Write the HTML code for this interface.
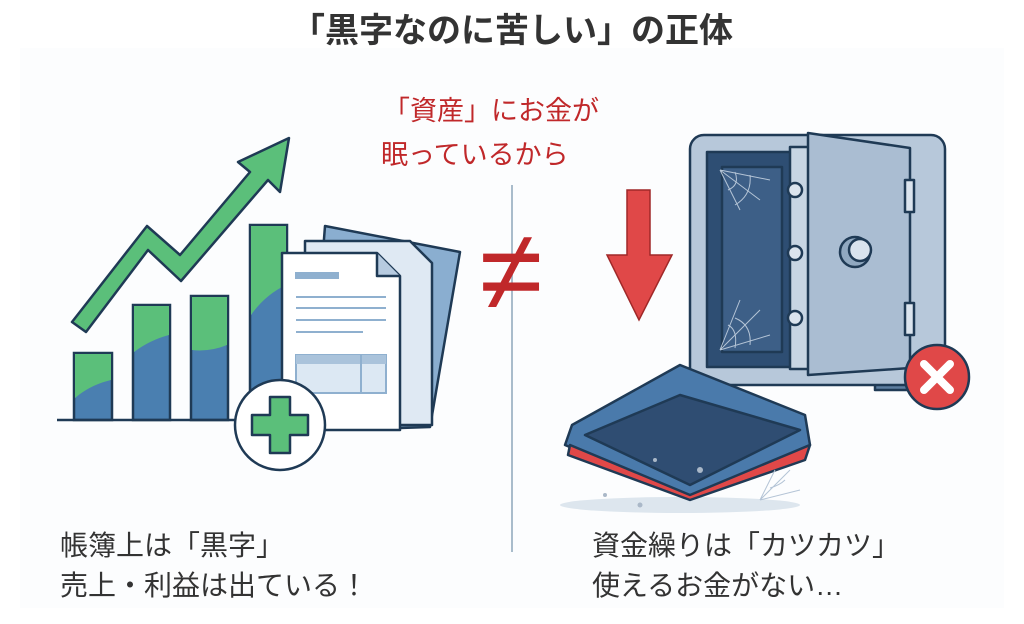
<!DOCTYPE html>
<html><head><meta charset="utf-8"><style>
body{margin:0;background:#fff;}
svg{display:block}
text{font-family:"Liberation Sans","Noto Sans CJK JP",sans-serif;}
</style></head><body>
<svg width="1024" height="624" viewBox="0 0 1024 624" xmlns="http://www.w3.org/2000/svg">
<rect width="1024" height="624" fill="#fff"/>
<rect x="20" y="48" width="984" height="560" fill="#fcfdfe"/>
<text x="512" y="42" text-anchor="middle" font-size="34" font-weight="bold" fill="#333">「黒字なのに苦しい」の正体</text>
<line x1="512" y1="185" x2="512" y2="552" stroke="#a9bccb" stroke-width="2"/>
<text x="383" y="120" font-size="27" fill="#c0282a">「資産」にお金が</text>
<text x="381" y="164" font-size="27" fill="#c0282a">眠っているから</text>
<text x="511" y="310" text-anchor="middle" font-size="115" fill="#c0282a">≠</text>

<!-- left chart -->
<g stroke="#1f3a55" stroke-width="2.5">
<rect x="74" y="353" width="38" height="67" fill="#4a7fb0"/>
<rect x="133" y="305" width="37" height="115" fill="#4a7fb0"/>
<rect x="191" y="296" width="37" height="124" fill="#4a7fb0"/>
<rect x="250" y="225" width="37" height="195" fill="#4a7fb0"/>
</g>
<g fill="#5bbf7a">
<path d="M75,354 H111 V380 Q90,385 75,398Z"/>
<path d="M134,306 H169 V335 Q150,340 134,352Z"/>
<path d="M192,297 H227 V345 Q210,352 192,350Z"/>
<path d="M251,226 H286 V285 Q265,295 251,315Z"/>
</g>
<line x1="57" y1="420" x2="240" y2="420" stroke="#1f3a55" stroke-width="2.5"/>
<path d="M72,322 L147,226 L180,255 L250,172 L238,162 L289,138 L280,192 L268,180 L181,281 L148,250 L86,332Z" fill="#5bbf7a" stroke="#1f3a55" stroke-width="2.5" stroke-linejoin="round"/>

<!-- documents -->
<g stroke="#1f3a55" stroke-width="2.5" stroke-linejoin="round">
<path d="M325,226 L460,252 L430,427 L400,428 L310,420Z" fill="#8aaed0"/>
<path d="M305,241 H410 L432,263 V425 H305Z" fill="#dfe9f3"/>
<path d="M282,253 H377 L400,276 V430 H282Z" fill="#fff"/>
<path d="M377,253 V276 H400" fill="#b7cbe0"/>
</g>
<g stroke="#8fb0cf" stroke-width="2">
<line x1="296" y1="297" x2="386" y2="297"/><line x1="296" y1="308" x2="386" y2="308"/><line x1="296" y1="320" x2="386" y2="320"/><line x1="296" y1="332" x2="363" y2="332"/>
</g>
<rect x="295" y="272" width="44" height="7" fill="#8fb0cf"/>
<rect x="296" y="355" width="90" height="38" fill="#dce8f3" stroke="#8fb0cf" stroke-width="2"/>
<rect x="296" y="355" width="90" height="9" fill="#aac3db"/>
<line x1="361" y1="355" x2="361" y2="393" stroke="#8fb0cf" stroke-width="2"/>
<circle cx="280" cy="425" r="45" fill="#fff" stroke="#1f3a55" stroke-width="2.5"/>
<path d="M270,397 H290 V415 H308 V435 H290 V453 H270 V435 H252 V415 H270Z" fill="#5bbf7a" stroke="#1f3a55" stroke-width="2.5" stroke-linejoin="round"/>

<!-- red down arrow -->
<path d="M627,190 H650 V255 H672 L639,320 L607,255 H627Z" fill="#e04848" stroke="#a02828" stroke-width="1.5"/>

<!-- safe -->
<g stroke="#1f3a55" stroke-width="2.5" stroke-linejoin="round">
<rect x="875" y="378" width="35" height="12" fill="#5d7ea0"/>
<rect x="690" y="135" width="255" height="250" rx="14" fill="#b7c8da"/>
<rect x="707" y="152" width="85" height="215" fill="#2e4e73"/>
<rect x="722" y="167" width="60" height="185" fill="#3d5f87"/>
<rect x="790" y="147" width="20" height="222" fill="#c7d5e3"/>
<path d="M808,133 L910,148 V368 L808,375Z" fill="#aabdd2"/>
<circle cx="855" cy="252" r="15" fill="#90a8c0"/>
<circle cx="860" cy="250" r="11" fill="#d9e3ee"/>
<circle cx="795" cy="190" r="7" fill="#dbe4ee"/>
<circle cx="795" cy="253" r="7" fill="#dbe4ee"/>
<circle cx="795" cy="318" r="7" fill="#dbe4ee"/>
<rect x="905" y="180" width="9" height="32" fill="#dbe4ee"/>
<rect x="905" y="303" width="9" height="32" fill="#dbe4ee"/>
</g>
<g stroke="#b4c4d6" stroke-width="1" fill="none">
<path d="M720,170 L760,200 M720,170 L740,210 M720,170 L770,180 M735,172 Q740,185 728,190 M750,175 Q752,195 735,205"/>
<path d="M720,350 L760,310 M720,350 L740,300 M720,350 L770,335 M735,348 Q738,330 728,325 M750,345 Q752,325 735,318"/>
</g>
<circle cx="937" cy="377" r="32" fill="#e04848" stroke="#1f3a55" stroke-width="2.5"/>
<path d="M924,364 L950,390 M950,364 L924,390" stroke="#fff" stroke-width="8" stroke-linecap="round"/>

<!-- wallet -->
<ellipse cx="680" cy="505" rx="120" ry="8" fill="#dde6ee"/>
<g stroke="#1f3a55" stroke-width="2.5" stroke-linejoin="round">
<path d="M572,425 L680,365 L805,415 L810,445 L690,497 L565,445Z" fill="#4a7aab"/>
<path d="M585,435 L680,395 L800,430 L690,485Z" fill="#2f4d72"/>
<path d="M570,445 L690,495 L810,445 L805,460 L690,500 L568,455Z" fill="#e04848"/>
</g>
<g stroke="#b4c4d6" stroke-width="1" fill="none">
<path d="M760,500 L790,470 M760,500 L775,470 M760,500 L800,490 M770,488 Q780,485 785,480"/>
</g>
<g fill="#aab8c8"><circle cx="605" cy="495" r="2"/><circle cx="640" cy="505" r="2.5"/><circle cx="700" cy="470" r="3"/><circle cx="655" cy="460" r="2"/></g>

<!-- bottom texts -->
<text x="60" y="555" font-size="28" fill="#333">帳簿上は「黒字」</text>
<text x="60" y="595" font-size="28" fill="#333">売上・利益は出ている！</text>
<text x="592" y="555" font-size="28" fill="#333">資金繰りは「カツカツ」</text>
<text x="592" y="595" font-size="28" fill="#333">使えるお金がない…</text>
</svg>
</body></html>
